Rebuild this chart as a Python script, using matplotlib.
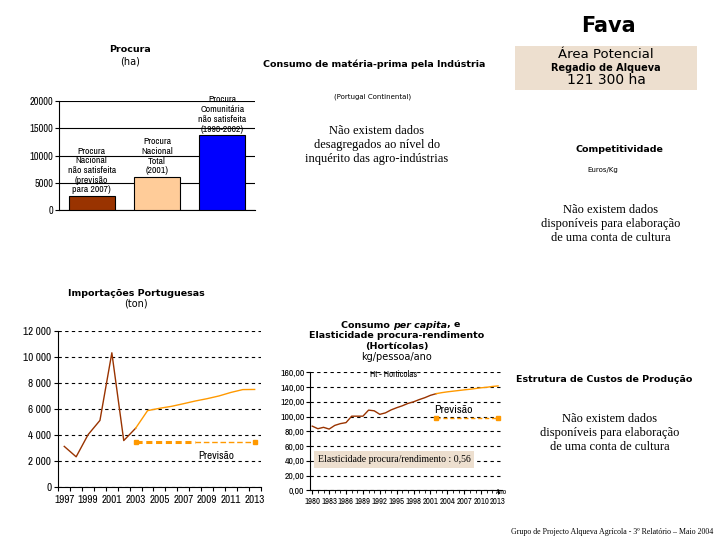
import matplotlib
matplotlib.use("Agg")
import matplotlib.pyplot as plt
from matplotlib.ticker import FuncFormatter, FixedLocator
import numpy as np

# ---------------- data ----------------
bar_labels = ["Procura\nNacional\nnão satisfeita\n(previsão\npara 2007)",
              "Procura\nNacional\nTotal\n(2001)",
              "Procura\nComunitária\nnão satisfeita\n(1998-2002)"]
bar_values = [2600, 6100, 13700]
bar_colors = ["#993300", "#FFCC99", "#0000FF"]

imp_years_hist = [1997, 1998, 1999, 2000, 2001, 2002, 2003]
imp_hist = [3100, 2300, 4000, 5100, 10300, 3550, 4500]
imp_years_fc = [2003, 2004, 2005, 2006, 2007, 2008, 2009, 2010, 2011, 2012, 2013]
imp_fc = [4500, 5850, 6030, 6180, 6380, 6590, 6770, 6980, 7250, 7470, 7480]
imp_prev_years = [2003, 2008, 2013]
imp_prev = [3450, 3450, 3450]

cons_years_hist = list(range(1980, 2003))
cons_hist = [87, 83.5, 85.4, 83, 88, 90.4, 91.8, 100.5, 100.5, 100.5, 108.7, 107.8,
             103, 105, 109, 112, 114.6, 117.8, 120, 123, 125.6, 128.8, 131]
cons_years_fc = list(range(2002, 2014))
cons_fc = [131, 132.4, 133.5, 134.4, 135.3, 136.2, 137, 138, 139, 139.7, 140.8, 141.5]
cons_prev_years = [2002, 2013]
cons_prev = [98, 98]

BROWN = "#993300"
ORANGE = "#FF9900"
BEIGE = "#EDDFCF"

W, H = 720, 540
fig = plt.figure(figsize=(7.2, 5.4), dpi=100)

def fx(px):
    return px / W

def fy(py):
    return 1 - py / H

narrow = ["Archivo Narrow", "Barlow Condensed", "DejaVu Sans"]
serif = ["Liberation Serif", "DejaVu Serif"]
sans = ["DejaVu Sans"]

# background overlay axes in pixel coords
bg = fig.add_axes([0, 0, 1, 1])
bg.set_xlim(0, W)
bg.set_ylim(H, 0)
bg.axis("off")

def T(x, y, s, size=7, weight="normal", family=sans, **kw):
    return bg.text(x, y, s, fontsize=size, fontweight=weight, family=family,
                   ha=kw.pop("ha", "center"), va=kw.pop("va", "center"), **kw)

# Header
T(608, 26, "Fava", size=15, weight="bold")
bg.add_patch(plt.Rectangle((515, 46), 182, 44, facecolor=BEIGE, edgecolor="none"))
T(606, 55, "Área Potencial", size=9.5)
T(606, 68, "Regadio de Alqueva", size=7, weight="bold")
T(606, 80, "121 300 ha", size=10)

T(374, 64, "Consumo de matéria-prima pela Indústria", size=6.8, weight="bold")
T(373, 97, "(Portugal Continental)", size=5)
T(377, 145, "Não existem dados\ndesagregados ao nível do\ninquérito das agro-indústrias",
  size=9, family=serif, linespacing=1.2)

T(619, 150, "Competitividade", size=6.8, weight="bold")
T(603, 170, "Euros/Kg", size=5)
T(611, 224, "Não existem dados\ndisponíveis para elaboração\nde uma conta de cultura",
  size=9, family=serif, linespacing=1.2)

T(604, 380, "Estrutura de Custos de Produção", size=6.8, weight="bold")
T(610, 433, "Não existem dados\ndisponíveis para elaboração\nde uma conta de cultura",
  size=9, family=serif, linespacing=1.2)

T(612, 532, "Grupo de Projecto Alqueva Agrícola - 3º Relatório – Maio 2004", size=5.7,
  family=serif)

# Chart titles
T(130, 50, "Procura", size=6.8, weight="bold")
T(130, 61, "(ha)", size=7)
T(136, 293, "Importações Portuguesas", size=6.8, weight="bold")
T(136, 303, "(ton)", size=7)

t1 = bg.text(341, 325, "Consumo ", fontsize=6.8, fontweight="bold", family=sans,
             ha="left", va="center")
t2 = bg.annotate("per capita", xy=(1, 0), xycoords=t1, fontsize=6.8, fontweight="bold",
                 fontstyle="italic", family=sans, ha="left", va="bottom")
bg.annotate(", e", xy=(1, 0), xycoords=t2, fontsize=6.8, fontweight="bold",
            family=sans, ha="left", va="bottom")
T(397, 336, "Elasticidade procura-rendimento", size=6.8, weight="bold")
T(397, 347, "(Hortícolas)", size=6.8, weight="bold")
T(397, 357, "kg/pessoa/ano", size=7)

# ---------------- bar chart ----------------
axb = fig.add_axes([fx(59), fy(210.3), fx(255 - 59), (210.3 - 100.7) / H])
xb = np.arange(len(bar_values))
axb.bar(xb, bar_values, width=0.7, color=bar_colors, edgecolor="black", linewidth=0.8,
        zorder=3)
axb.set_xlim(-0.5, 2.5)
axb.set_ylim(0, 20000)
axb.set_yticks([0, 5000, 10000, 15000, 20000])
axb.yaxis.set_major_formatter(FuncFormatter(lambda v, p: f"{int(v)}"))
axb.set_xticks([])
axb.grid(axis="y", color="black", linewidth=0.8, zorder=0)
for s in ["top", "right"]:
    axb.spines[s].set_visible(False)
axb.spines["bottom"].set_linewidth(0.8)
axb.spines["left"].set_linewidth(0.8)
axb.tick_params(axis="y", labelsize=7.5, length=3, width=0.8, pad=1)
for lab in axb.get_yticklabels():
    lab.set_family(narrow)
for i, (v, lab) in enumerate(zip(bar_values, bar_labels)):
    axb.text(i, v + 300, lab, ha="center", va="bottom", fontsize=7, family=narrow,
             linespacing=1.1, clip_on=False, zorder=4)

# ---------------- imports chart ----------------
axi = fig.add_axes([fx(58.3), fy(486.7), fx(260.6 - 58.3), (486.7 - 330.7) / H])
axi.plot(imp_years_hist, imp_hist, color=BROWN, linewidth=1.0, zorder=3)
axi.plot(imp_years_fc, imp_fc, color=ORANGE, linewidth=1.0, zorder=3)
axi.plot(imp_prev_years[:2], imp_prev[:2], color=ORANGE, linewidth=2.2,
         linestyle=(0, (2, 1.2)), zorder=3)
axi.plot(imp_prev_years[1:], imp_prev[1:], color=ORANGE, linewidth=1.0,
         linestyle=(0, (4, 2)), zorder=3)
axi.plot([imp_prev_years[0], imp_prev_years[-1]], [imp_prev[0], imp_prev[-1]],
         linestyle="none", marker="s", markersize=2.5, color=ORANGE, zorder=3)
axi.text(2008.3, 2350, "Previsão", fontsize=8, family=narrow, ha="left", va="center")
axi.set_xlim(1996.5, 2013.5)
axi.set_ylim(0, 12000)
axi.set_yticks(range(0, 12001, 2000))
axi.yaxis.set_major_formatter(FuncFormatter(
    lambda v, p: f"{int(v):,}".replace(",", " ")))
axi.xaxis.set_major_locator(FixedLocator(list(range(1997, 2014, 2))))
axi.xaxis.set_minor_locator(FixedLocator([y - 0.5 for y in range(1997, 2015)]))
axi.tick_params(axis="x", which="major", length=0, labelsize=8, pad=6)
axi.tick_params(axis="x", which="minor", length=3, width=0.8)
axi.tick_params(axis="y", length=3, width=0.8, labelsize=8, pad=2)
for lab in axi.get_xticklabels() + axi.get_yticklabels():
    lab.set_family(narrow)
axi.grid(axis="y", color="black", linewidth=0.8, linestyle=(0, (3, 3)), zorder=0)
for s in ["top", "right"]:
    axi.spines[s].set_visible(False)
axi.spines["left"].set_linewidth(0.8)
axi.spines["bottom"].set_linewidth(0.8)

# ---------------- consumption chart ----------------
axc = fig.add_axes([fx(310), fy(490.3), fx(502 - 310), (490.3 - 372.3) / H])
axc.plot(cons_years_hist, cons_hist, color=BROWN, linewidth=1.0, zorder=3)
axc.plot(cons_years_fc, cons_fc, color=ORANGE, linewidth=1.0, zorder=3)
axc.plot(cons_prev_years, cons_prev, color=ORANGE, linewidth=1.0,
         linestyle=(0, (3, 2)), marker="s", markersize=2.5, zorder=3)
axc.text(2005, 109, "Previsão", fontsize=8.5, family=narrow, ha="center", va="center")
axc.text(1994.4, 156.5, "Ht - Horticolas", fontsize=6.5, family=narrow, ha="center",
         va="center")
axc.text(1994.5, 42, "Elasticidade procura/rendimento : 0,56", fontsize=7,
         family=serif, ha="center", va="center", zorder=4,
         bbox=dict(boxstyle="square,pad=0.4", facecolor=BEIGE, edgecolor="none"))
axc.set_xlim(1979.6, 2013.7)
axc.set_ylim(0, 160)
axc.set_yticks(range(0, 161, 20))
axc.yaxis.set_major_formatter(FuncFormatter(lambda v, p: f"{v:.2f}".replace(".", ",")))
axc.set_xticks(list(range(1980, 2014, 3)))
axc.xaxis.set_minor_locator(FixedLocator(list(range(1980, 2014))))
axc.tick_params(axis="x", which="major", length=3, width=0.8, labelsize=6.3, pad=2)
axc.tick_params(axis="x", which="minor", length=2, width=0.6)
axc.tick_params(axis="y", length=3, width=0.8, labelsize=7, pad=1)
for lab in axc.get_xticklabels() + axc.get_yticklabels():
    lab.set_family(narrow)
axc.text(2013.4, -2.5, "Ano", fontsize=5.5, family=narrow, ha="center", va="center",
         clip_on=False, zorder=5)
axc.grid(axis="y", color="black", linewidth=0.8, linestyle=(0, (3, 3)), zorder=0)
for s in ["top", "right"]:
    axc.spines[s].set_visible(False)
axc.spines["left"].set_linewidth(0.8)
axc.spines["bottom"].set_linewidth(0.8)

fig.savefig("out.png", dpi=100)
